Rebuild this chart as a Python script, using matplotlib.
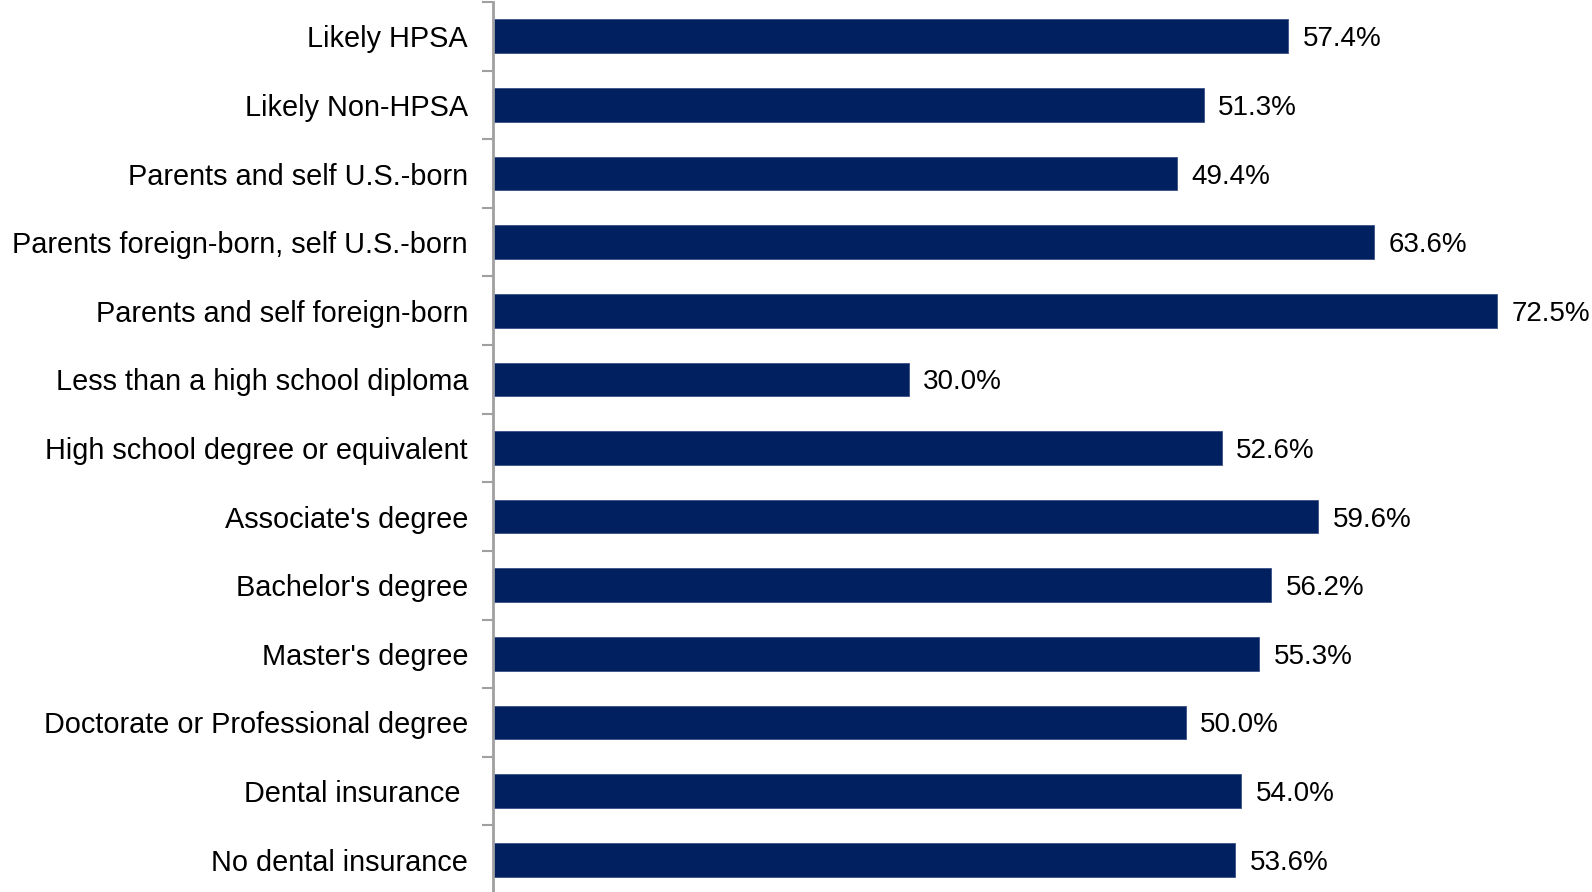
import numpy as np
import matplotlib
matplotlib.use('Agg')
import matplotlib.pyplot as plt

plt.rcParams['font.family'] = ['Liberation Sans', 'DejaVu Sans']

categories = [
    "Likely HPSA",
    "Likely Non-HPSA",
    "Parents and self U.S.-born",
    "Parents foreign-born, self U.S.-born",
    "Parents and self foreign-born",
    "Less than a high school diploma",
    "High school degree or equivalent",
    "Associate's degree",
    "Bachelor's degree",
    "Master's degree",
    "Doctorate or Professional degree",
    "Dental insurance ",
    "No dental insurance",
]
values = [57.4, 51.3, 49.4, 63.6, 72.5, 30.0, 52.6, 59.6, 56.2, 55.3, 50.0, 54.0, 53.6]

W, H = 1592, 892
fig = plt.figure(figsize=(W / 100, H / 100), dpi=100)
left = 493 / W
ax = fig.add_axes([left, 1 - 894 / H, 1 - left, 892 / H])

n = len(categories)
y = np.arange(n)
ax.barh(y, values, height=0.49, color='#002060', edgecolor='#3a4f86', linewidth=0.6)

for yi, v in zip(y, values):
    ax.text(v + 1.05, yi, f"{v:.1f}%", va='center_baseline', ha='left', fontsize=20, color='black')

ax.set_xlim(0, (W - 493) / 13.85)
ax.set_ylim(n - 0.5, -0.5)

ax.set_yticks(y)
ax.set_yticklabels(categories, fontsize=20.8, va='center_baseline')
ax.tick_params(axis='y', which='major', length=0, pad=18)
ax.set_yticks(np.arange(n + 1) - 0.5, minor=True)
ax.tick_params(axis='y', which='minor', length=8, width=1.5, color='#a0a0a0', direction='out')

ax.set_xticks([])
for s in ['top', 'right', 'bottom']:
    ax.spines[s].set_visible(False)
ax.spines['left'].set_color('#a0a0a0')
ax.spines['left'].set_linewidth(2)

fig.savefig('out.png', dpi=100, facecolor='white')
